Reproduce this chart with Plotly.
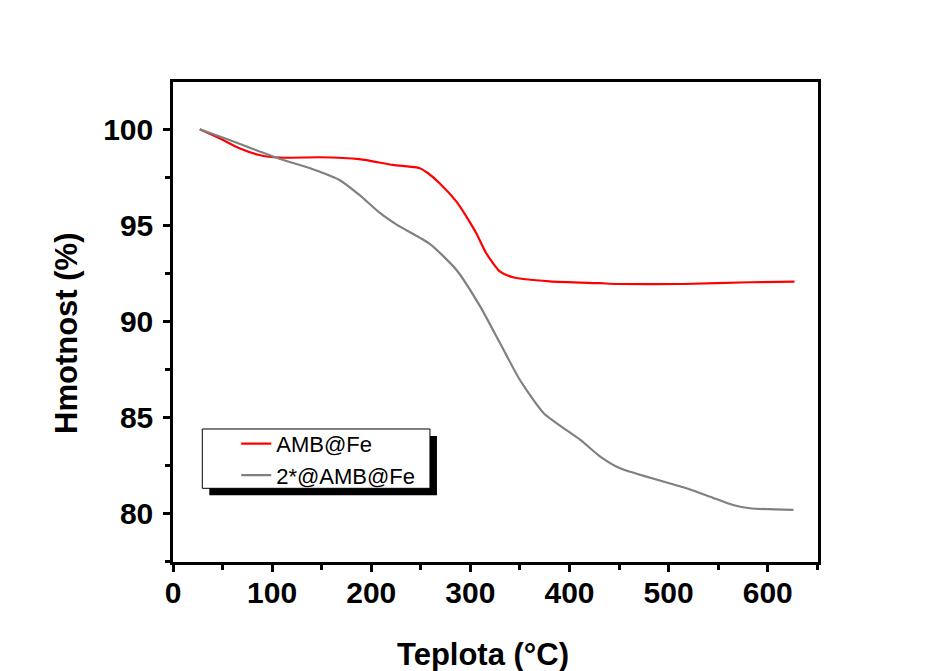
import plotly.graph_objects as go

# AMB@Fe (red)
amb_temp = [27, 47, 67, 87, 108, 148, 188, 222, 249, 257, 269, 286, 296, 306, 316, 330, 343, 380, 431, 448, 515, 582, 627]
amb_mass = [100.0, 99.53, 99.01, 98.66, 98.52, 98.54, 98.44, 98.14, 97.97, 97.72, 97.19, 96.23, 95.45, 94.58, 93.54, 92.58, 92.29, 92.08, 91.98, 91.94, 91.94, 92.03, 92.06]

# 2*@AMB@Fe (gray)
amb2_temp = [27, 57, 88, 108, 141, 168, 188, 209, 226, 259, 286, 310, 330, 350, 374, 411, 431, 451, 498, 515, 542, 565, 582, 626]
amb2_mass = [100.0, 99.44, 98.83, 98.45, 97.92, 97.36, 96.58, 95.63, 95.02, 94.03, 92.67, 90.76, 88.85, 86.94, 85.21, 83.82, 82.95, 82.34, 81.60, 81.35, 80.86, 80.43, 80.26, 80.17]

series_names = ["AMB@Fe", "2*@AMB@Fe"]
series_colors = ["#ff0000", "#808080"]

x_title = "Teplota (°C)"
y_title = "Hmotnost (%)"

fig = go.Figure()
fig.add_trace(go.Scatter(x=amb_temp, y=amb_mass, mode="lines", name=series_names[0],
                         line=dict(color=series_colors[0], width=2.2, shape="spline", smoothing=0.6)))
fig.add_trace(go.Scatter(x=amb2_temp, y=amb2_mass, mode="lines", name=series_names[1],
                         line=dict(color=series_colors[1], width=2.2, shape="spline", smoothing=0.6)))

axis_common = dict(
    showline=True, linecolor="black", linewidth=2.5, mirror=True,
    ticks="outside", ticklen=7, tickwidth=2.5, tickcolor="black",
    showgrid=False, zeroline=False,
    tickfont=dict(family="Liberation Sans, Arial, sans-serif", size=30, color="black", weight="bold"),
)

fig.update_xaxes(range=[0, 650.7], tick0=0, dtick=100,
                 minor=dict(dtick=50, ticks="outside", ticklen=5, tickwidth=2.5, tickcolor="black"),
                 ticklabelstandoff=-5, **axis_common)
fig.update_yaxes(range=[77.46, 102.46], tick0=0, dtick=5,
                 minor=dict(dtick=2.5, ticks="outside", ticklen=5, tickwidth=2.5, tickcolor="black"),
                 ticklabelstandoff=4, **axis_common)

# legend box with drop shadow
bx0, bx1, by0, by1 = 0.0454, 0.3984, 0.1535, 0.2771
dx, dy = 7 / 645, 7 / 480
fig.add_shape(type="rect", xref="paper", yref="paper",
              x0=bx0 + dx, x1=bx1 + dx, y0=by0 - dy, y1=by1 - dy,
              fillcolor="black", line=dict(width=0), layer="above")
fig.add_shape(type="rect", xref="paper", yref="paper",
              x0=bx0, x1=bx1, y0=by0, y1=by1,
              fillcolor="white", line=dict(color="black", width=1), layer="above")

fig.add_annotation(text=x_title, xref="paper", yref="paper", x=0.4806, y=-0.1917,
                   showarrow=False, xanchor="center", yanchor="middle",
                   font=dict(family="Liberation Sans, Arial, sans-serif", size=31, color="black", weight="bold"))
fig.add_annotation(text=y_title, xref="paper", yref="paper", x=-0.166, y=0.477,
                   showarrow=False, xanchor="center", yanchor="middle", textangle=-90,
                   font=dict(family="Liberation Sans, Arial, sans-serif", size=31, color="black", weight="bold"))

fig.update_layout(
    width=928, height=663,
    margin=dict(l=165, r=118, t=74, b=109),
    paper_bgcolor="white", plot_bgcolor="white",
    showlegend=True,
    legend=dict(x=0.098, y=0.290, xanchor="left", yanchor="top",
                bgcolor="rgba(0,0,0,0)", borderwidth=0,
                tracegroupgap=0,
                font=dict(family="Liberation Sans, Arial, sans-serif", size=22, color="black")),
)

fig.write_html("out.html")
